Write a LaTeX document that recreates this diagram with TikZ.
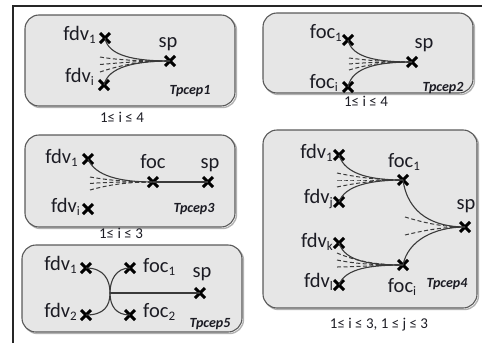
\documentclass[tikz,border=0pt]{standalone}
\usepackage{fontspec}
\setmainfont{Carlito}
\usetikzlibrary{shapes.misc}
\definecolor{txt}{HTML}{1C1C24}
\definecolor{boxfill}{HTML}{E6E6E6}
\definecolor{boxline}{HTML}{5A5A5A}
\definecolor{wire}{HTML}{3A3A3A}
\newcommand{\mysub}[1]{\raisebox{-3.5pt}{\fontsize{13}{13}\selectfont #1}}
\tikzset{
  pt/.style={cross out, draw=black, line width=3pt, minimum size=7pt, inner sep=0pt},
  boxshape/.style={draw=boxline, fill=boxfill, rounded corners=14pt, line width=1.1pt},
  shadowshape/.style={draw=gray!60, rounded corners=14pt, line width=1.4pt},
  lbl/.style={font=\fontsize{20.5}{20.5}\selectfont, text=txt, inner sep=0pt},
  tname/.style={font=\fontsize{14}{14}\selectfont\bfseries\itshape, text=txt, inner sep=0pt},
  rng/.style={font=\fontsize{15}{15}\selectfont, text=txt, inner sep=0pt},
  sol/.style={draw=wire, line width=1.1pt},
  dsh/.style={draw=wire, line width=1pt, dash pattern=on 4pt off 2.5pt},
  frame/.style={draw=black!85, line width=1.2pt},
}
\begin{document}
\begin{tikzpicture}[x=1pt,y=-1pt]
\useasboundingbox (0,0) rectangle (482,343);
% outer frame
\draw[frame] (13,343) -- (13,6) -- (482,6);

% ---------- boxes ----------
\draw[shadowshape] (26.5,16.5) rectangle (236.5,107.5);
\draw[boxshape] (25,15) rectangle (235,106);
\draw[shadowshape] (264.5,14.5) rectangle (474.5,94.5);
\draw[boxshape] (263,13) rectangle (473,93);
\draw[shadowshape] (26.5,136.5) rectangle (236.5,228.5);
\draw[boxshape] (25,135) rectangle (235,227);
\draw[shadowshape] (23.5,246.5) rectangle (243.5,333.5);
\draw[boxshape] (22,245) rectangle (242,332);
\draw[shadowshape] (264.5,131.5) rectangle (478.5,309.5);
\draw[boxshape] (263,130) rectangle (477,308);

% ---------- Tpcep1 ----------
\node[pt] (a1) at (105,38) {};
\node[pt] (ai) at (104,85) {};
\node[pt] (asp) at (170,61) {};
\node[lbl, anchor=base east] (ta1) at (96,40) {fdv\mysub{1}};
\node[lbl, anchor=base east] (tai) at (94,82) {fdv\mysub{i}};
\node[lbl, anchor=base] (tasp) at (168,47) {sp};
\node[tname, anchor=base] (tn1) at (190,94) {Tpcep1};
\node[rng, anchor=base] (r1) at (122,122) {1≤ i ≤ 4};
\coordinate (ad1) at (100,57);
\coordinate (ad2) at (100,64.5);
\coordinate (ad3) at (100,72);
\draw[dsh] (ad1) .. controls (118,60) and (138,61) .. (asp.center);
\draw[dsh] (ad2) .. controls (118,63) and (138,61) .. (asp.center);
\draw[dsh] (ad3) .. controls (118,66) and (138,61) .. (asp.center);
\draw[sol] (a1.center) .. controls (108,56) and (135,61) .. (asp.center);
\draw[sol] (ai.center) .. controls (108,67) and (135,61) .. (asp.center);

% ---------- Tpcep2 ----------
\node[pt] (b1) at (348,40) {};
\node[pt] (bi) at (348,87) {};
\node[pt] (bsp) at (412,62) {};
\node[lbl, anchor=base east] (tb1) at (342,38) {foc\mysub{1}};
\node[lbl, anchor=base east] (tbi) at (338,88) {foc\mysub{i}};
\node[lbl, anchor=base] (tbsp) at (424,48) {sp};
\node[tname, anchor=base] (tn2) at (443,91) {Tpcep2};
\node[rng, anchor=base] (r2) at (366,106) {1≤ i ≤ 4};
\coordinate (bd1) at (349,58);
\coordinate (bd2) at (349,64);
\coordinate (bd3) at (349,70);
\draw[dsh] (bd1) .. controls (366,60) and (382,62) .. (bsp.center);
\draw[dsh] (bd2) .. controls (366,62.5) and (382,62) .. (bsp.center);
\draw[dsh] (bd3) .. controls (366,65) and (382,62) .. (bsp.center);
\draw[sol] (b1.center) .. controls (352,58) and (378,62) .. (bsp.center);
\draw[sol] (bi.center) .. controls (352,67) and (378,62) .. (bsp.center);

% ---------- Tpcep3 ----------
\node[pt] (c1) at (88,159) {};
\node[pt] (ci) at (88,209) {};
\node[pt] (cfoc) at (153,182) {};
\node[pt] (csp) at (208,182) {};
\node[lbl, anchor=base east] (tc1) at (78,163) {fdv\mysub{1}};
\node[lbl, anchor=base east] (tci) at (80,212) {fdv\mysub{i}};
\node[lbl, anchor=base] (tcfoc) at (153,168) {foc};
\node[lbl, anchor=base] (tcsp) at (210,168) {sp};
\node[tname, anchor=base] (tn3) at (194,212) {Tpcep3};
\node[rng, anchor=base] (r3) at (121,238) {1≤ i ≤ 3};
\coordinate (cd1) at (90,177);
\coordinate (cd2) at (90,183.5);
\coordinate (cd3) at (90,190);
\draw[dsh] (cd1) .. controls (108,180) and (126,182) .. (cfoc.center);
\draw[dsh] (cd2) .. controls (108,182) and (126,182) .. (cfoc.center);
\draw[dsh] (cd3) .. controls (108,185) and (126,182) .. (cfoc.center);
\draw[sol] (c1.center) .. controls (95,176) and (120,182) .. (cfoc.center);
\draw[sol] (cfoc.center) -- (csp.center);

% ---------- Tpcep5 ----------
\node[pt] (e1) at (86,268) {};
\node[pt] (e2) at (86,315) {};
\node[pt] (ef1) at (130,268) {};
\node[pt] (ef2) at (130,315) {};
\node[pt] (esp) at (200,293) {};
\coordinate (ej) at (110,293);
\node[lbl, anchor=base east] (te1) at (77,270) {fdv\mysub{1}};
\node[lbl, anchor=base east] (te2) at (77,317) {fdv\mysub{2}};
\node[lbl, anchor=base west] (tef1) at (143,272) {foc\mysub{1}};
\node[lbl, anchor=base west] (tef2) at (143,317) {foc\mysub{2}};
\node[lbl, anchor=base] (tesp) at (202,277) {sp};
\node[tname, anchor=base] (tn5) at (210,327) {Tpcep5};
\draw[sol] (e1.center) .. controls (104,268) and (110,280) .. (ej)
                       .. controls (110,306) and (104,315) .. (e2.center);
\draw[sol] (ef1.center) .. controls (116,268) and (110,280) .. (ej)
                        .. controls (110,306) and (116,315) .. (ef2.center);
\draw[sol] (ej) -- (esp.center);

% ---------- Tpcep4 ----------
\node[pt] (d1) at (339,155) {};
\node[pt] (dj) at (339,202) {};
\node[pt] (dk) at (339,243) {};
\node[pt] (dl) at (339,285) {};
\node[pt] (df1) at (403,180) {};
\node[pt] (dfi) at (403,265) {};
\node[pt] (dsp) at (465,227) {};
\node[lbl, anchor=base east] (td1) at (333,158) {fdv\mysub{1}};
\node[lbl, anchor=base east] (tdj) at (333,203) {fdv\mysub{j}};
\node[lbl, anchor=base east] (tdk) at (333,247) {fdv\mysub{k}};
\node[lbl, anchor=base east] (tdl) at (333,287) {fdv\mysub{l}};
\node[lbl, anchor=base] (tdf1) at (404,167) {foc\mysub{1}};
\node[lbl, anchor=base] (tdfi) at (402,292) {foc\mysub{i}};
\node[lbl, anchor=base] (tdsp) at (466,209) {sp};
\node[tname, anchor=base] (tn4) at (447,287) {Tpcep4};
\node[rng, anchor=base] (r4) at (379,328) {1≤ i ≤ 3, 1 ≤ j ≤ 3};
% top group
\coordinate (dd1) at (337,173);
\coordinate (dd2) at (337,180);
\coordinate (dd3) at (337,187);
\draw[dsh] (dd1) .. controls (356,177) and (376,180) .. (df1.center);
\draw[dsh] (dd2) .. controls (356,180) and (376,180) .. (df1.center);
\draw[dsh] (dd3) .. controls (356,183) and (376,180) .. (df1.center);
\draw[sol] (d1.center) .. controls (345,175) and (372,180) .. (df1.center);
\draw[sol] (dj.center) .. controls (345,185) and (372,180) .. (df1.center);
% bottom group
\coordinate (dd4) at (337,253);
\coordinate (dd5) at (337,260);
\coordinate (dd6) at (337,267);
\draw[dsh] (dd4) .. controls (356,261) and (376,265) .. (dfi.center);
\draw[dsh] (dd5) .. controls (356,264) and (376,265) .. (dfi.center);
\draw[dsh] (dd6) .. controls (356,267) and (376,265) .. (dfi.center);
\draw[sol] (dk.center) .. controls (345,262) and (372,265) .. (dfi.center);
\draw[sol] (dl.center) .. controls (345,268) and (372,265) .. (dfi.center);
% sp group
\coordinate (dd7) at (405,217);
\coordinate (dd8) at (405,235);
\draw[dsh] (dd7) .. controls (422,222) and (440,227) .. (dsp.center);
\draw[dsh] (dd8) .. controls (422,231) and (440,227) .. (dsp.center);
\draw[sol] (df1.center) .. controls (408,215) and (435,227) .. (dsp.center);
\draw[sol] (dfi.center) .. controls (408,240) and (435,227) .. (dsp.center);
\end{tikzpicture}
\end{document}
